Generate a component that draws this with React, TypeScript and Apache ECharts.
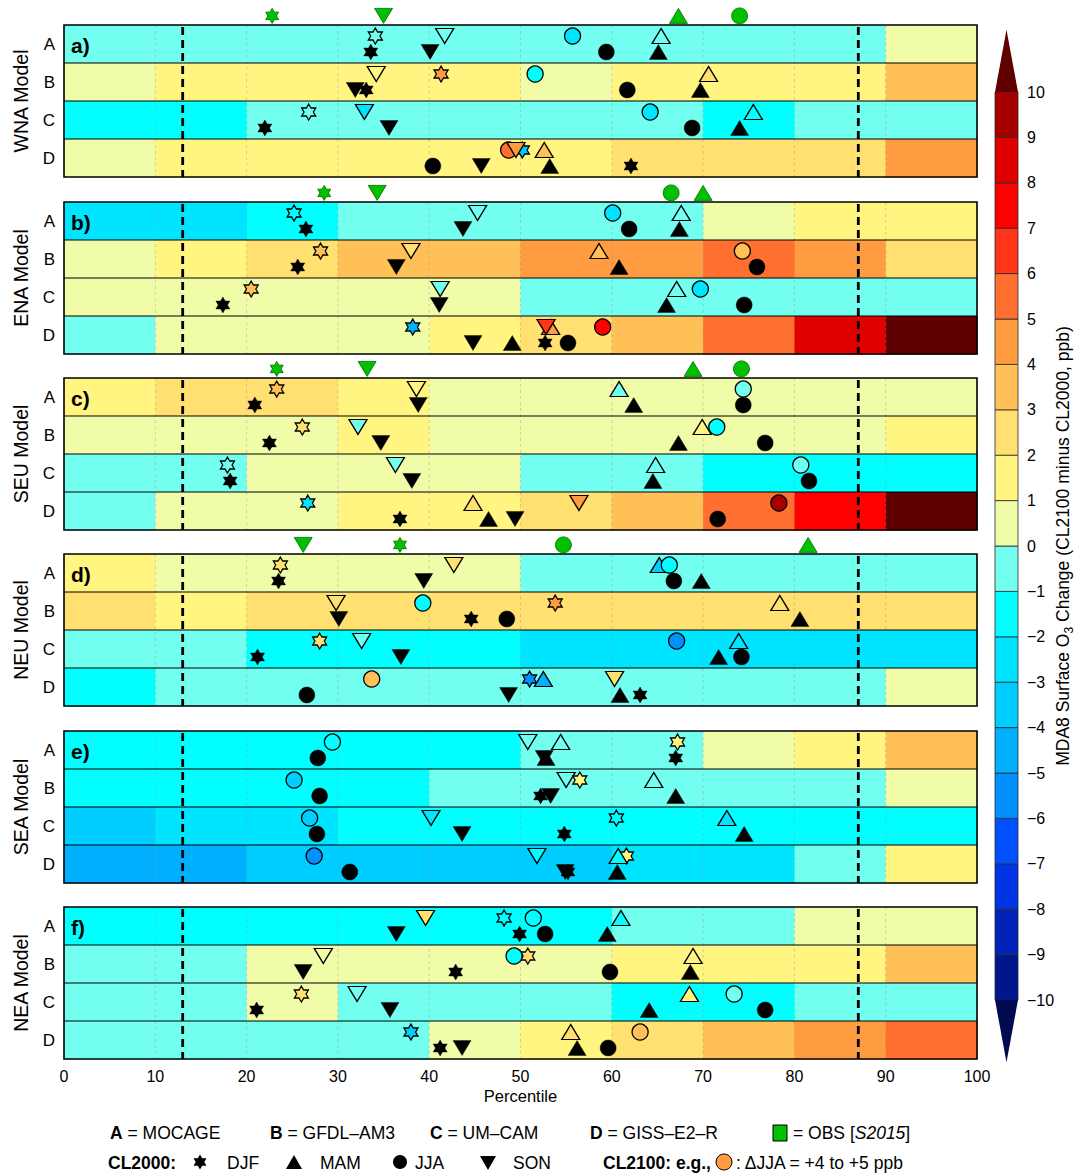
import React, { useEffect, useRef } from 'react';
import * as echarts from 'echarts';

// ---------- axes / categories ----------
const PERCENTILE_BINS = [0, 10, 20, 30, 40, 50, 60, 70, 80, 90, 100];
const GRID_PERCENTILES = [10, 20, 30, 40, 50, 60, 70, 80, 90];
const REF_PERCENTILES = [13, 87];
const ROW_LABELS = ['A', 'B', 'C', 'D'];
const REGIONS = ['WNA', 'ENA', 'SEU', 'NEU', 'SEA', 'NEA'];
const PANEL_LETTERS = ['a)', 'b)', 'c)', 'd)', 'e)', 'f)'];
const SEASONS = ['DJF', 'MAM', 'JJA', 'SON'];
const COLORBAR_BOUNDS = [-10, -9, -8, -7, -6, -5, -4, -3, -2, -1, 0, 1, 2, 3, 4, 5, 6, 7, 8, 9, 10];
const COLORBAR_ARROW = 1.37;
const LEVEL_COLORS = [
  '#000a50', '#00168c', '#0022b8', '#0032e6', '#0050ff', '#0090ff', '#00b0ff', '#00cdff', '#00e5ff', '#00ffff', '#72fff0',
  '#f0fca8', '#fff580', '#ffe070', '#ffc058', '#ff9c42', '#ff7030', '#ff3418', '#ff0000', '#e00000', '#a80000', '#600000',
];

// ---------- WNA ----------
const wnaCells = [
  [-0.5, -0.5, -0.5, -0.5, -0.5, -0.5, -0.5, -0.5, -0.5, 0.5],
  [0.5, 1.5, 1.5, 1.5, 1.5, 0.5, 1.5, 1.5, 1.5, 3.5],
  [-1.5, -1.5, -0.5, -0.5, -0.5, -0.5, -0.5, -1.5, -0.5, -0.5],
  [0.5, 1.5, 1.5, 1.5, 1.5, 1.5, 2.5, 2.5, 2.5, 4.5],
];
const wnaCl2000 = [[33.6, 65.1, 59.4, 40.1], [33.1, 69.7, 61.7, 31.9], [22.0, 74.0, 68.8, 35.6], [62.1, 53.2, 40.4, 45.7]];
const wnaCl2100 = [[34.1, 65.4, 55.7, 41.7], [41.3, 70.6, 51.6, 34.2], [26.8, 75.5, 64.2, 32.9], [50.2, 52.6, 48.7, 49.5]];
const wnaDelta = [[null, null, -2.5, null], [4.5, 2.5, -1.5, null], [null, null, -2.5, -2.5], [-3.5, 3.5, 5.5, 4.5]];
const wnaObs = [22.8, 67.3, 74.0, 35.0];

// ---------- ENA ----------
const enaCells = [
  [-2.5, -2.5, -1.5, -0.5, -0.5, -0.5, -0.5, 0.5, 1.5, 1.5],
  [0.5, 1.5, 2.5, 3.5, 3.5, 4.5, 4.5, 5.5, 4.5, 2.5],
  [0.5, 0.5, 0.5, 0.5, 0.5, -0.5, -0.5, -0.5, -0.5, -0.5],
  [-0.5, 0.5, 0.5, 0.5, 1.5, 2.5, 3.5, 5.5, 8.5, 11],
];
const enaCl2000 = [[26.5, 67.4, 61.9, 43.7], [25.6, 60.8, 75.9, 36.4], [17.4, 66.0, 74.5, 41.1], [52.7, 49.1, 55.2, 44.8]];
const enaCl2100 = [[25.2, 67.6, 60.1, 45.3], [28.1, 58.6, 74.3, 38.0], [20.5, 67.1, 69.7, 41.2], [38.2, 53.3, 59.0, 52.8]];
const enaDelta = [[null, null, -2.5, null], [3.5, 3.5, 3.5, 2.5], [3.5, null, -2.5, -0.5], [-4.5, 4.5, 7.5, 6.5]];
const enaObs = [28.5, 70.0, 66.5, 34.3];

// ---------- SEU ----------
const seuCells = [
  [1.5, 2.5, 2.5, 1.5, 0.5, 0.5, 0.5, 0.5, 0.5, 0.5],
  [0.5, 0.5, 0.5, 1.5, 0.5, 0.5, 0.5, 0.5, 0.5, 1.5],
  [-0.5, -0.5, 0.5, 0.5, 0.5, -0.5, -0.5, -1.5, -1.5, -1.5],
  [-0.5, 0.5, 0.5, 1.5, 1.5, 2.5, 3.5, 5.5, 7.5, 11],
];
const seuCl2000 = [[20.9, 62.4, 74.4, 38.8], [22.5, 67.3, 76.8, 34.7], [18.2, 64.5, 81.6, 38.1], [36.8, 46.5, 71.6, 49.4]];
const seuCl2100 = [[23.3, 60.8, 74.4, 38.6], [26.1, 69.9, 71.5, 32.2], [17.9, 64.8, 80.7, 36.3], [26.7, 44.8, 78.3, 56.4]];
const seuDelta = [[3.5, -0.5, -0.5, null], [2.5, 1.5, -1.5, -0.5], [null, -0.5, -0.5, -0.5], [-2.5, 2.5, 9.5, 4.5]];
const seuObs = [23.3, 68.9, 74.2, 33.2];

// ---------- NEU ----------
const neuCells = [
  [1.5, 0.5, 0.5, 0.5, 0.5, -0.5, -0.5, -0.5, -0.5, -0.5],
  [2.5, 1.5, 2.5, 2.5, 2.5, 2.5, 2.5, 2.5, 2.5, 2.5],
  [-0.5, -0.5, -1.5, -1.5, -1.5, -2.5, -2.5, -2.5, -2.5, -2.5],
  [-1.5, -0.5, -0.5, -0.5, -0.5, -0.5, -0.5, -0.5, -0.5, 0.5],
];
const neuCl2000 = [[23.5, 69.8, 66.8, 39.4], [44.6, 80.6, 48.5, 30.1], [21.2, 71.7, 74.2, 36.9], [63.1, 60.9, 26.6, 48.7]];
const neuCl2100 = [[23.7, 65.2, 66.3, 42.7], [53.8, 78.4, 39.3, 29.8], [28.0, 73.9, 67.1, 32.6], [51.0, 52.5, 33.7, 60.3]];
const neuDelta = [[2.5, -3.5, -1.5, 2.5], [4.5, null, -1.5, 2.5], [2.5, null, -5.5, -0.5], [-5.5, -4.5, 3.5, 2.5]];
const neuObs = [36.8, 81.5, 54.7, 26.2];

// ---------- SEA ----------
const seaCells = [
  [-1.5, -1.5, -1.5, -1.5, -1.5, -0.5, -0.5, 0.5, 1.5, 3.5],
  [-1.5, -1.5, -1.5, -1.5, -0.5, -0.5, -0.5, -0.5, -0.5, 0.5],
  [-3.5, -2.5, -2.5, -1.5, -1.5, -1.5, -1.5, -1.5, -1.5, -1.5],
  [-4.5, -4.5, -3.5, -3.5, -3.5, -3.5, -2.5, -2.5, -0.5, 1.5],
];
const seaCl2000 = [[67.0, 52.8, 27.8, 52.6], [52.2, 67.0, 28.0, 53.3], [54.8, 74.5, 27.7, 43.6], [55.2, 60.6, 31.3, 54.9]];
const seaCl2100 = [[67.2, 54.4, 29.4, 50.8], [56.5, 64.6, 25.2, 55.0], [60.5, 72.6, 26.9, 40.2], [61.6, 60.7, 27.4, 51.8]];
const seaDelta = [[1.5, null, null, null], [1.5, null, -3.5, null], [null, -2.5, -3.5, -2.5], [1.5, -1.5, -5.5, -1.5]];
const seaObs = [null, null, null, null];

// ---------- NEA ----------
const neaCells = [
  [-1.5, -1.5, -1.5, -1.5, -1.5, -1.5, -0.5, -0.5, 0.5, 0.5],
  [-0.5, -0.5, 0.5, 0.5, 0.5, 0.5, 1.5, 1.5, 1.5, 3.5],
  [-0.5, -0.5, 0.5, -0.5, -0.5, -0.5, -1.5, -1.5, -0.5, -0.5],
  [-0.5, -0.5, -0.5, -0.5, 0.5, 1.5, 2.5, 3.5, 4.5, 5.5],
];
const neaCl2000 = [[49.9, 59.5, 52.7, 36.4], [42.9, 68.6, 59.8, 26.2], [21.1, 64.1, 76.8, 35.7], [41.2, 56.2, 59.6, 43.6]];
const neaCl2100 = [[48.2, 61.0, 51.4, 39.6], [50.8, 68.9, 49.3, 28.4], [26.0, 68.5, 73.4, 32.1], [38.0, 55.5, 63.1, null]];
const neaDelta = [[null, -1.5, null, 2.5], [2.5, null, -1.5, null], [2.5, 1.5, -0.5, null], [-3.5, 2.5, 3.5, null]];
const neaObs = [null, null, null, null];

const PANELS = [
  { cells: wnaCells, cl2000: wnaCl2000, cl2100: wnaCl2100, delta: wnaDelta, obs: wnaObs },
  { cells: enaCells, cl2000: enaCl2000, cl2100: enaCl2100, delta: enaDelta, obs: enaObs },
  { cells: seuCells, cl2000: seuCl2000, cl2100: seuCl2100, delta: seuDelta, obs: seuObs },
  { cells: neuCells, cl2000: neuCl2000, cl2100: neuCl2100, delta: neuDelta, obs: neuObs },
  { cells: seaCells, cl2000: seaCl2000, cl2100: seaCl2100, delta: seaDelta, obs: seaObs },
  { cells: neaCells, cl2000: neaCl2000, cl2100: neaCl2100, delta: neaDelta, obs: neaObs },
];

// ---------- layout & style ----------
const FONT = 'Liberation Sans, Arial, Helvetica, sans-serif';
const PANEL_TOPS = [25, 202, 378, 554, 731, 907];
const PANEL_H = 152;
const PLOT_LEFT = 64;
const PLOT_W = 913;
const Y_NEW = 0.29;
const Y_OLD = 0.71;
const Y_OBS = -0.24;
const OBS_GREEN = '#00c000';
const LEG_FS = 17.5;
const STAR_PATH = 'path://M50 0L64.43 25L93.3 25L78.87 50L93.3 75L64.43 75L50 100L35.57 75L6.7 75L21.13 50L6.7 25L35.57 25Z';
const STAR_UNIT = [[0, -1], [0.2887, -0.5], [0.866, -0.5], [0.5774, 0], [0.866, 0.5], [0.2887, 0.5], [0, 1], [-0.2887, 0.5], [-0.866, 0.5], [-0.5774, 0], [-0.866, -0.5], [-0.2887, -0.5]];

function colorOf(v: number): string {
  if (v < -10) return LEVEL_COLORS[0];
  if (v >= 10) return LEVEL_COLORS[21];
  return LEVEL_COLORS[Math.floor(v) + 11];
}

function seasonSymbol(s: number, obs = false) {
  if (s === 0) return { symbol: STAR_PATH, symbolSize: obs ? [13, 15] : [14, 16], symbolRotate: 0 };
  if (s === 1) return { symbol: 'triangle', symbolSize: [18, 15], symbolRotate: 0 };
  if (s === 2) return { symbol: 'circle', symbolSize: 16, symbolRotate: 0 };
  return { symbol: 'triangle', symbolSize: [18, 15], symbolRotate: 180 };
}

function starPoints(cx: number, cy: number, w: number, h: number) {
  return STAR_UNIT.map(([x, y]) => [cx + (x * w) / 1.732, cy + (y * h) / 2]);
}

function cellRender(params: any, api: any) {
  const x0 = api.value(0), x1 = api.value(1), r = api.value(2), v = api.value(3);
  const p0 = api.coord([x0, r]);
  const p1 = api.coord([x1, r + 1]);
  return {
    type: 'rect',
    shape: { x: p0[0], y: p0[1], width: p1[0] - p0[0] + 0.6, height: p1[1] - p0[1] + 0.6 },
    style: { fill: colorOf(v) },
  };
}

function frameRender(panelIdx: number) {
  return (params: any, api: any) => {
    const children: any[] = [];
    for (const g of GRID_PERCENTILES) {
      const a = api.coord([g, 0]), b = api.coord([g, 4]);
      children.push({ type: 'line', shape: { x1: a[0], y1: a[1], x2: b[0], y2: b[1] }, style: { stroke: 'rgba(140,140,140,0.45)', lineWidth: 0.8, lineDash: [3, 3] } });
    }
    for (let r = 1; r < ROW_LABELS.length; r++) {
      const a = api.coord([0, r]), b = api.coord([100, r]);
      children.push({ type: 'line', shape: { x1: a[0], y1: a[1], x2: b[0], y2: b[1] }, style: { stroke: '#000', lineWidth: 1.2 } });
    }
    for (const ref of REF_PERCENTILES) {
      const a = api.coord([ref, 0]), b = api.coord([ref, 4]);
      children.push({ type: 'line', shape: { x1: a[0], y1: a[1] + 2, x2: b[0], y2: b[1] }, style: { stroke: '#000', lineWidth: 2.8, lineDash: [8, 5] } });
    }
    const tl = api.coord([0, 0]), br = api.coord([100, 4]);
    children.push({ type: 'rect', shape: { x: tl[0], y: tl[1], width: br[0] - tl[0], height: br[1] - tl[1] }, style: { fill: 'none', stroke: '#000', lineWidth: 1.6 } });
    const lp = api.coord([0, 0.5]);
    children.push({
      type: 'text', x: lp[0] + 7, y: lp[1] + 1,
      style: { text: PANEL_LETTERS[panelIdx], fontSize: 21, fontWeight: 'bold', fontFamily: FONT, fill: '#000', align: 'left', verticalAlign: 'middle', textAlign: 'left', textVerticalAlign: 'middle' },
    });
    return { type: 'group', children };
  };
}

function colorbarRender(params: any, api: any) {
  const lo = api.value(0), hi = api.value(1), kind = api.value(2);
  const fill = colorOf((lo + hi) / 2);
  if (kind === 0) {
    const p0 = api.coord([0, hi]), p1 = api.coord([1, lo]);
    return { type: 'rect', shape: { x: p0[0], y: p0[1], width: p1[0] - p0[0], height: p1[1] - p0[1] }, style: { fill, stroke: '#2a2a2a', lineWidth: 0.8 } };
  }
  const pts = kind === 1
    ? [api.coord([0, hi]), api.coord([1, hi]), api.coord([0.5, lo])]
    : [api.coord([0, lo]), api.coord([1, lo]), api.coord([0.5, hi])];
  return { type: 'polygon', shape: { points: pts }, style: { fill } };
}

function buildOption() {
  const grid: any[] = PANEL_TOPS.map((t) => ({ left: PLOT_LEFT, top: t, width: PLOT_W, height: PANEL_H, containLabel: false }));
  grid.push({ left: 995, top: 92, width: 23, height: 908 });
  const xAxis: any[] = [];
  const yAxis: any[] = [];
  const series: any[] = [];

  PANELS.forEach((p, i) => {
    const last = i === PANELS.length - 1;
    xAxis.push({
      gridIndex: i, type: 'value', min: 0, max: 100, interval: 10,
      axisLine: { show: false }, axisTick: { show: false }, splitLine: { show: false },
      axisLabel: { show: last, fontSize: 16, color: '#000', margin: 9, fontFamily: FONT },
      name: last ? 'Percentile' : '', nameLocation: 'middle', nameGap: 28,
      nameTextStyle: { fontSize: 16.5, color: '#000', fontFamily: FONT },
    });
    yAxis.push({
      gridIndex: i, type: 'value', min: 0, max: 4, interval: 0.5, inverse: true,
      axisLine: { show: false }, axisTick: { show: false }, splitLine: { show: false },
      axisLabel: {
        fontSize: 17, color: '#000', margin: 9, fontFamily: FONT, showMinLabel: true, showMaxLabel: true,
        formatter: (v: number) => {
          const k = Math.round(v * 2);
          return k % 2 === 1 ? ROW_LABELS[(k - 1) / 2] : '';
        },
      },
      name: REGIONS[i] + ' Model', nameLocation: 'middle', nameRotate: 90, nameGap: 33,
      nameTextStyle: { fontSize: 19.5, color: '#000', fontFamily: FONT },
    });

    const cellData: number[][] = [];
    p.cells.forEach((row, r) => row.forEach((v, b) => cellData.push([PERCENTILE_BINS[b], PERCENTILE_BINS[b + 1], r, v])));
    series.push({ type: 'custom', xAxisIndex: i, yAxisIndex: i, data: cellData, renderItem: cellRender, silent: true, z: 1 });
    series.push({ type: 'custom', xAxisIndex: i, yAxisIndex: i, data: [[0, 0]], renderItem: frameRender(i), silent: true, z: 2 });

    const old: any[] = [];
    p.cl2000.forEach((row, r) => row.forEach((x, s) => {
      if (x == null) return;
      old.push({ value: [x, r + Y_OLD], name: SEASONS[s], ...seasonSymbol(s), itemStyle: { color: '#000', borderColor: '#000', borderWidth: 0.4, opacity: 1 } });
    }));
    series.push({ type: 'scatter', name: 'CL2000', xAxisIndex: i, yAxisIndex: i, data: old, silent: true, z: 3, itemStyle: { opacity: 1 } });

    const nw: any[] = [];
    p.cl2100.forEach((row, r) => row.forEach((x, s) => {
      if (x == null) return;
      const d = p.delta[r][s];
      nw.push({
        value: [x, r + Y_NEW], name: SEASONS[s], ...seasonSymbol(s),
        itemStyle: { color: d == null ? 'rgba(255,255,255,0)' : colorOf(d), borderColor: '#000', borderWidth: 1.3, opacity: 1 },
      });
    }));
    series.push({ type: 'scatter', name: 'CL2100', xAxisIndex: i, yAxisIndex: i, data: nw, silent: true, z: 4, itemStyle: { opacity: 1 } });

    const ob: any[] = [];
    p.obs.forEach((x, s) => {
      if (x == null) return;
      ob.push({ value: [x, Y_OBS], name: SEASONS[s], ...seasonSymbol(s, true), itemStyle: { color: OBS_GREEN, borderColor: '#006a00', borderWidth: 0.8, opacity: 1 } });
    });
    series.push({ type: 'scatter', name: 'OBS', xAxisIndex: i, yAxisIndex: i, data: ob, silent: true, clip: false, z: 5, itemStyle: { opacity: 1 } });
  });

  // colour bar
  xAxis.push({ gridIndex: 6, type: 'value', min: 0, max: 1, show: false });
  yAxis.push({
    gridIndex: 6, type: 'value', min: -10, max: 10, interval: 1, position: 'right',
    axisLine: { show: false }, axisTick: { show: false }, splitLine: { show: false },
    axisLabel: { fontSize: 16, color: '#000', margin: 9, fontFamily: FONT, formatter: (v: number) => String(v).replace('-', '\u2212') },
  });
  const cbData: number[][] = COLORBAR_BOUNDS.slice(0, -1).map((lo, k) => [lo, COLORBAR_BOUNDS[k + 1], 0]);
  cbData.push([COLORBAR_BOUNDS[0] - COLORBAR_ARROW, COLORBAR_BOUNDS[0], 1]);
  cbData.push([COLORBAR_BOUNDS[COLORBAR_BOUNDS.length - 1], COLORBAR_BOUNDS[COLORBAR_BOUNDS.length - 1] + COLORBAR_ARROW, 2]);
  series.push({ type: 'custom', xAxisIndex: 6, yAxisIndex: 6, data: cbData, renderItem: colorbarRender, silent: true });

  const txt = (x: number, y: number, text: string) => ({
    type: 'text', x, y,
    style: {
      text, fontSize: LEG_FS, fontFamily: FONT, fill: '#000', textAlign: 'left', textVerticalAlign: 'middle',
      rich: {
        b: { fontSize: LEG_FS, fontFamily: FONT, fontWeight: 'bold', fill: '#000' },
        i: { fontSize: LEG_FS, fontFamily: FONT, fontStyle: 'italic', fill: '#000' },
      },
    },
  });
  const L1 = 1133, L2 = 1163;
  const graphic: any[] = [
    {
      type: 'text', x: 1063, y: 546, rotation: Math.PI / 2,
      style: {
        text: '{n|MDA8 Surface O}{sub|3}{n| Change (CL2100 minus CL2000, ppb)}',
        textAlign: 'center', textVerticalAlign: 'middle', fill: '#000',
        rich: {
          n: { fontSize: 17.5, fontFamily: FONT, lineHeight: 24, fill: '#000' },
          sub: { fontSize: 12, fontFamily: FONT, lineHeight: 12, verticalAlign: 'bottom', fill: '#000' },
        },
      },
    },
    txt(110, L1, '{b|A} = MOCAGE'),
    txt(270, L1, '{b|B} = GFDL\u2013AM3'),
    txt(430, L1, '{b|C} = UM\u2013CAM'),
    txt(590, L1, '{b|D} = GISS\u2013E2\u2013R'),
    { type: 'rect', shape: { x: 773, y: L1 - 8, width: 14, height: 16 }, style: { fill: OBS_GREEN, stroke: '#000', lineWidth: 1 } },
    txt(793, L1, '= OBS [{i|S2015}]'),
    txt(108, L2, '{b|CL2000:}'),
    { type: 'polygon', shape: { points: starPoints(200, L2 - 1, 13, 15) }, style: { fill: '#000' } },
    txt(227, L2, 'DJF'),
    { type: 'polygon', shape: { points: [[286, L2 + 6], [302, L2 + 6], [294, L2 - 8]] }, style: { fill: '#000' } },
    txt(320, L2, 'MAM'),
    { type: 'circle', shape: { cx: 400, cy: L2 - 1, r: 7 }, style: { fill: '#000' } },
    txt(415, L2, 'JJA'),
    { type: 'polygon', shape: { points: [[480, L2 - 7], [496, L2 - 7], [488, L2 + 7]] }, style: { fill: '#000' } },
    txt(513, L2, 'SON'),
    txt(603, L2, '{b|CL2100: e.g.,}'),
    { type: 'circle', shape: { cx: 724, cy: L2 - 1, r: 8 }, style: { fill: colorOf(4.5), stroke: '#000', lineWidth: 1 } },
    txt(736, L2, ': \u0394JJA = +4 to +5 ppb'),
  ];

  return {
    animation: false,
    backgroundColor: '#fff',
    textStyle: { fontFamily: FONT },
    grid, xAxis, yAxis, series, graphic,
  };
}

export default function App() {
  const ref = useRef<HTMLDivElement>(null);
  useEffect(() => {
    document.body.style.margin = '0';
    const chart = echarts.init(ref.current as HTMLDivElement, null, { renderer: 'svg' });
    chart.setOption(buildOption() as any);
    return () => chart.dispose();
  }, []);
  return <div ref={ref} style={{ width: 1086, height: 1176 }} />;
}
